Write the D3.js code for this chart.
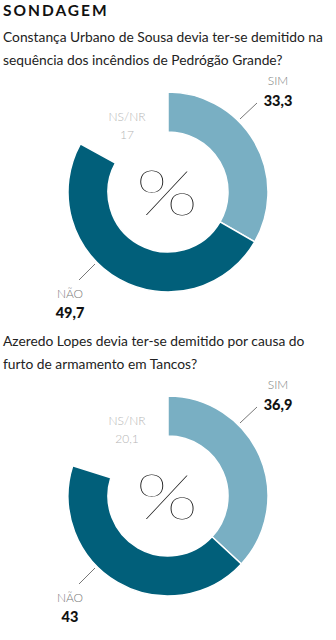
<!DOCTYPE html>
<html lang="pt">
<head>
<meta charset="utf-8">
<script src="https://cdn.jsdelivr.net/npm/d3@7"></script>
<style>
  html, body { margin: 0; padding: 0; background: #fff; }
  svg { display: block; }
  text { font-family: Lato, "Noto Sans", sans-serif; }
</style>
</head>
<body>
<svg id="chart" width="336" height="640"></svg>
<script>
// Survey results (percent)
const title = "SONDAGEM";
const questions = [
  ["Constança Urbano de Sousa devia ter-se demitido na", "sequência dos incêndios de Pedrógão Grande?"],
  ["Azeredo Lopes devia ter-se demitido por causa do", "furto de armamento em Tancos?"]
];
const categories = ["SIM", "NÃO", "NS/NR"];
const simValues = [33.3, 36.9];
const naoValues = [49.7, 43];
const nsnrValues = [17, 20.1];

const colors = { "SIM": "#79afc3", "NÃO": "#015f7a", "NS/NR": "none" };
const fmt = v => String(v).replace(".", ",");

const svg = d3.select("#chart");

svg.append("text")
  .attr("x", 3).attr("y", 16)
  .attr("font-size", 15.5).attr("font-weight", 700)
  .attr("letter-spacing", 2)
  .attr("fill", "#111")
  .text(title);

// question font size: the longest line fills the 320px text column
const probe = svg.append("text").attr("font-size", 15).text(questions[0][0]);
const qSize = 15 * 320 / probe.node().getComputedTextLength();
probe.remove();

const pie = d3.pie().sort(null).value(d => d.value);
const arc = d3.arc().innerRadius(60).outerRadius(100);

const blockHeight = 304;

questions.forEach((q, i) => {
  const g = svg.append("g").attr("transform", `translate(0,${i * blockHeight})`);

  // question text
  g.selectAll("text.q").data(q).join("text")
    .attr("class", "q")
    .attr("x", 3)
    .attr("y", (d, j) => 42 + j * 22.5)
    .attr("font-size", qSize)
    .attr("fill", "#222")
    .text(d => d);

  const data = categories.map((c, k) => ({
    cat: c,
    value: [simValues[i], naoValues[i], nsnrValues[i]][k]
  }));
  const arcs = pie(data);

  const c = g.append("g").attr("transform", "translate(168,192)");

  c.selectAll("path").data(arcs.filter(a => a.data.cat !== "NS/NR")).join("path")
    .attr("d", arc)
    .attr("fill", a => colors[a.data.cat])
    .attr("stroke", "#fff")
    .attr("stroke-width", 1.5);

  // centre symbol, thin and wide
  c.append("text")
    .attr("transform", "translate(-1,23) scale(1.3,1)")
    .attr("text-anchor", "middle")
    .attr("font-size", 63).attr("font-weight", 100)
    .attr("fill", "#111")
    .text("%");

  // SIM label
  c.append("line")
    .attr("x1", 89).attr("y1", -89).attr("x2", 72).attr("y2", -73)
    .attr("stroke", "#777").attr("stroke-width", 1);
  c.append("text").attr("x", 110).attr("y", -107)
    .attr("text-anchor", "middle").attr("font-size", 12).attr("font-weight", 300)
    .attr("fill", "#7a7a7a").text(categories[0]);
  c.append("text").attr("x", 110).attr("y", -86)
    .attr("text-anchor", "middle").attr("font-size", 14.5).attr("font-weight", 900)
    .attr("fill", "#111").text(fmt(simValues[i]));

  // NÃO label
  c.append("line")
    .attr("x1", -73).attr("y1", 72).attr("x2", -89).attr("y2", 88)
    .attr("stroke", "#777").attr("stroke-width", 1);
  c.append("text").attr("x", -98).attr("y", 106)
    .attr("text-anchor", "middle").attr("font-size", 12).attr("font-weight", 300)
    .attr("fill", "#7a7a7a").text(categories[1]);
  c.append("text").attr("x", -98).attr("y", 126)
    .attr("text-anchor", "middle").attr("font-size", 14.5).attr("font-weight", 900)
    .attr("fill", "#111").text(fmt(naoValues[i]));

  // NS/NR label
  c.append("text").attr("x", -41).attr("y", -71)
    .attr("text-anchor", "middle").attr("font-size", 12).attr("font-weight", 300)
    .attr("fill", "#b5b5b5").text(categories[2]);
  c.append("text").attr("x", -41).attr("y", -53)
    .attr("text-anchor", "middle").attr("font-size", 12).attr("font-weight", 300)
    .attr("fill", "#b5b5b5").text(fmt(nsnrValues[i]));
});
</script>
</body>
</html>
